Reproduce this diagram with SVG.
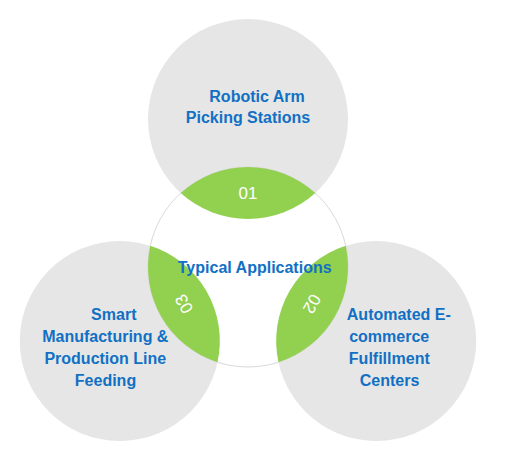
<svg xmlns="http://www.w3.org/2000/svg" width="508" height="462" viewBox="0 0 508 462">
  <style>
    .outer { fill: #E6E6E6; }
    .center { fill: #FFFFFF; stroke: #D9D9D9; stroke-width: 1; }
    .lens { fill: #92D050; }
    .label { font-family: "Liberation Sans", Arial, sans-serif; font-weight: bold; font-size: 16px; fill: #1170C4; text-anchor: middle; }
    .num { font-family: "Liberation Sans", Arial, sans-serif; font-size: 17px; fill: #FFFFFF; text-anchor: middle; }
  </style>
  <defs>
    <path id="lensShape" d="M -67.26 -74 A 100 100 0 0 1 67.26 -74 A 100 100 0 0 1 -67.26 -74 Z"/>
  </defs>
  <rect width="508" height="462" fill="#FFFFFF"/>

  <g id="node-top">
    <circle class="outer" cx="248" cy="119" r="100"/>
    <text class="label" x="257" y="101.5">Robotic Arm</text>
    <text class="label" x="248" y="123">Picking Stations</text>
  </g>

  <g id="node-bottom-left">
    <circle class="outer" cx="119.8" cy="341" r="100"/>
    <text class="label" x="113.8" y="320">Smart</text>
    <text class="label" x="105.3" y="342">Manufacturing &amp;</text>
    <text class="label" x="105.3" y="364">Production Line</text>
    <text class="label" x="105.5" y="386">Feeding</text>
  </g>

  <g id="node-bottom-right">
    <circle class="outer" cx="376.2" cy="341" r="100"/>
    <text class="label" x="398.8" y="320">Automated E-</text>
    <text class="label" x="389.2" y="342">commerce</text>
    <text class="label" x="389.3" y="364">Fulfillment</text>
    <text class="label" x="389.5" y="386">Centers</text>
  </g>

  <g id="node-center">
    <circle class="center" cx="248" cy="267" r="100"/>
    <g id="badge-01" transform="translate(248 267)">
      <use href="#lensShape" class="lens"/>
      <text class="num" x="0" y="-68">01</text>
    </g>
    <g id="badge-02" transform="translate(248 267) rotate(120)">
      <use href="#lensShape" class="lens"/>
      <text class="num" x="0" y="-68">02</text>
    </g>
    <g id="badge-03" transform="translate(248 267) rotate(240)">
      <use href="#lensShape" class="lens"/>
      <text class="num" x="0" y="-68">03</text>
    </g>
    <text class="label" x="254.7" y="273">Typical Applications</text>
  </g>
</svg>
